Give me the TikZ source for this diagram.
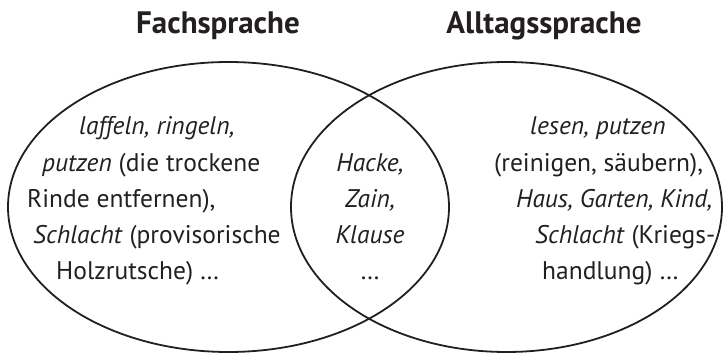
\documentclass[tikz,border=0pt]{standalone}
\usepackage{fontspec}
\setmainfont{PT Sans}
\usetikzlibrary{shapes.geometric}
\definecolor{ink}{HTML}{231F20}
\tikzset{
  set/.style={draw=ink, line width=1.8pt, ellipse, inner sep=0pt, minimum width=441pt, minimum height=290pt},
  txt/.style={anchor=base west, inner sep=0pt, text=ink, font=\fontsize{25.5}{30}\selectfont},
  ctxt/.style={anchor=base, inner sep=0pt, text=ink, font=\fontsize{25.5}{30}\selectfont},
  ttl/.style={anchor=base, inner sep=0pt, text=ink, font=\fontsize{31}{36}\selectfont\bfseries}
}
\begin{document}
\begin{tikzpicture}[x=1pt,y=-1pt]
\useasboundingbox (0,0) rectangle (723,355);
\node[set] (fach) at (228.5,207) {};
\node[set, minimum width=431pt] (alltag) at (506.5,207) {};
\node[ttl] (t1) at (218,34) {Fachsprache};
\node[ttl] (t2) at (544,34) {Alltagssprache};
% left
\node[txt] (l1) at (79,135) {\textit{laffeln, ringeln,}};
\node[txt] (l2) at (42,172) {\textit{putzen} (die trockene};
\node[txt] (l3) at (27,208) {Rinde entfernen),};
\node[txt] (l4) at (33,244) {\textit{Schlacht} (provisorische};
\node[txt] (l5) at (56,280) {Holzrutsche) …};
% middle
\node[ctxt] (m1) at (370,172) {\textit{Hacke,}};
\node[ctxt] (m2) at (370,208) {\textit{Zain,}};
\node[ctxt] (m3) at (370,244) {\textit{Klause}};
\node[ctxt] (m4) at (370,280) {…};
% right
\node[txt] (r1) at (530,135) {\textit{lesen, putzen}};
\node[txt] (r2) at (494,172) {(reinigen, säubern),};
\node[txt] (r3) at (516,208) {\textit{Haus, Garten, Kind,}};
\node[txt] (r4) at (535,244) {\textit{Schlacht} (Kriegs-};
\node[txt] (r5) at (542,280) {handlung) …};
\end{tikzpicture}
\end{document}
